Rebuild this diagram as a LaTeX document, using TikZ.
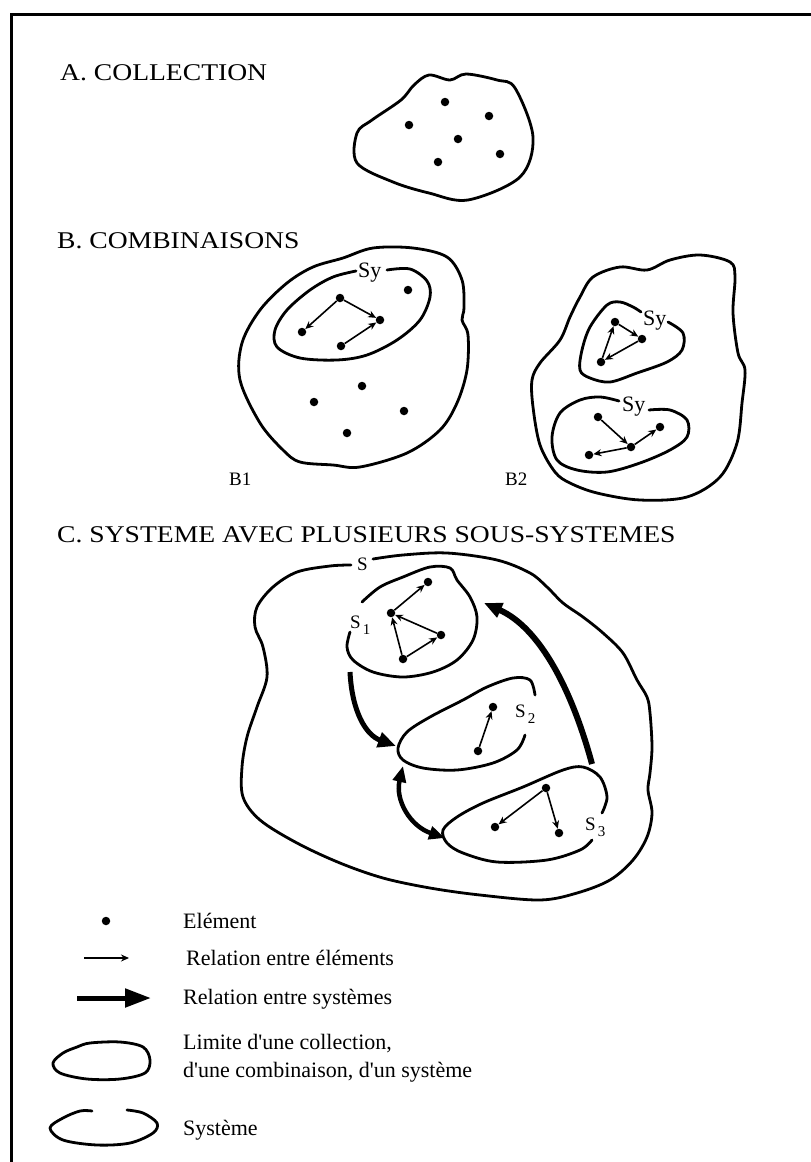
\documentclass[tikz,border=0pt]{standalone}
\usepackage{fontspec}
\setmainfont{Liberation Serif}
\newfontfamily\titlefont[FakeStretch=1.15]{Liberation Serif}
\usetikzlibrary{arrows.meta}
\tikzset{
  blob/.style={line width=2.8pt, line cap=round, line join=round},
  dot/.style={circle, fill=black, inner sep=0pt, minimum size=8.5pt},
  elarrow/.style={line width=1.6pt, -{Stealth[length=8pt,width=7pt]}},
  sysarrow/.style={line width=5pt, -{Triangle[length=18pt,width=15pt]}},
  title/.style={anchor=base west, inner sep=0pt, font=\titlefont\fontsize{24}{28}\selectfont},
  lbl/.style={anchor=base west, inner sep=0pt, font=\fontsize{19}{22}\selectfont},
  sylbl/.style={anchor=base west, inner sep=0pt, font=\fontsize{22}{24}\selectfont},
  legtext/.style={anchor=base west, inner sep=0pt, font=\fontsize{22}{28}\selectfont},
}
\newcommand{\subs}[1]{\hspace{2pt}\raisebox{-6pt}{\fontsize{15}{15}\selectfont #1}}
\begin{document}
\begin{tikzpicture}[x=1pt,y=-1pt]
\useasboundingbox (0,0) rectangle (811,1162);
% frame
\draw[line width=3pt] (11,1162) -- (11,14) -- (811,14);

% ---------- A ----------
\node[title] (ta) at (60,80) {A. COLLECTION};
\draw[blob] plot[smooth cycle, tension=0.55] coordinates {(429,75) (450,80) (466,74) (497,80) (515,88) (533,137) (520,177) (468,200) (429,193) (393,182) (357,163) (357,133) (372,120) (401,100) (414,85)};
\node[dot] (a1) at (445,102) {};
\node[dot] (a2) at (489,116) {};
\node[dot] (a3) at (409,125) {};
\node[dot] (a4) at (458,139) {};
\node[dot] (a5) at (500,154) {};
\node[dot] (a6) at (438,162) {};

% ---------- B ----------
\node[title] (tb) at (57,248) {B. COMBINAISONS};
% B1
\draw[blob] plot[smooth cycle, tension=0.55] coordinates {(343,258) (373,248) (413,248) (447,257) (462,280) (464,308) (462,320) (468,335) (467,370) (457,403) (440,430) (407,453) (360,467) (333,465) (300,462) (283,450) (260,423) (240,380) (242,343) (260,310) (287,283) (313,267)};
\draw[blob] plot[smooth, tension=0.55] coordinates {(387,270) (410,269) (427,281) (430,297) (420,320) (397,340) (367,355) (337,360) (300,358) (277,347) (275,330) (287,310) (310,290) (333,277) (356,271)};
\node[sylbl] (sy1) at (358,277) {Sy};
\node[dot] (b1) at (340,298) {};
\node[dot] (b2) at (380,320) {};
\node[dot] (b3) at (302,332) {};
\node[dot] (b4) at (341,346) {};
\node[dot] (b5) at (408,290) {};
\draw[elarrow] (b1) -- (b2);
\draw[elarrow] (b1) -- (b3);
\draw[elarrow] (b4) -- (b2);
\node[dot] (b6) at (362,386) {};
\node[dot] (b7) at (314,402) {};
\node[dot] (b8) at (404,411) {};
\node[dot] (b9) at (347,433) {};
\node[lbl] (lb1) at (229,485) {B1};
% B2
\draw[blob] plot[smooth cycle, tension=0.55] coordinates {(580,297) (593,277) (620,267) (647,270) (670,260) (700,255) (730,262) (735,277) (733,313) (738,353) (745,370) (742,403) (737,443) (720,477) (687,497) (640,500) (597,493) (570,483) (555,472) (540,445) (533,407) (532,380) (540,363) (560,340) (570,317)};
\draw[blob] plot[smooth, tension=0.55] coordinates {(668,322) (683,333) (682,350) (667,362) (637,373) (610,382) (590,378) (580,370) (582,350) (590,327) (607,305) (620,302) (633,307) (641,312)};
\node[sylbl] (sy2) at (643,325) {Sy};
\node[dot] (c1) at (615,322) {};
\node[dot] (c2) at (642,339) {};
\node[dot] (c3) at (601,362) {};
\draw[elarrow] (c1) -- (c2);
\draw[elarrow] (c2) -- (c3);
\draw[elarrow] (c3) -- (c1);
\draw[blob] plot[smooth, tension=0.55] coordinates {(649,410) (670,410) (687,420) (687,437) (670,450) (640,463) (607,472) (577,470) (557,460) (552,437) (560,413) (580,400) (600,397) (619,401)};
\node[sylbl] (sy3) at (622,411) {Sy};
\node[dot] (d1) at (598,417) {};
\node[dot] (d2) at (660,427) {};
\node[dot] (d3) at (631,447) {};
\node[dot] (d4) at (589,455) {};
\draw[elarrow] (d1) -- (d3);
\draw[elarrow] (d3) -- (d2);
\draw[elarrow] (d3) -- (d4);
\node[lbl] (lb2) at (505,485) {B2};

% ---------- C ----------
\node[title] (tc) at (57,542) {C. SYSTEME AVEC PLUSIEURS SOUS-SYSTEMES};
\draw[blob] plot[smooth, tension=0.55] coordinates {(373,559) (403,555) (447,553) (497,560) (530,573) (547,587) (563,603) (583,617) (603,633) (623,653) (637,680) (647,697) (650,713) (652,747) (650,773) (648,790) (652,813) (647,837) (633,860) (610,880) (577,893) (540,900) (480,895) (430,888) (383,878) (340,863) (297,843) (260,820) (243,797) (242,767) (247,737) (257,707) (267,677) (263,647) (255,627) (257,607) (273,587) (297,572) (330,566) (351,565)};
\node[lbl] (ls) at (357,570) {S};
% S1
\draw[blob] plot[smooth, tension=0.55] coordinates {(350,632) (347,647) (353,660) (373,672) (403,677) (433,672) (457,660) (473,640) (477,617) (470,597) (457,580) (450,568) (430,567) (403,577) (380,587) (362,602)};
\node[lbl] (ls1) at (350,628) {S\subs{1}};
\node[dot] (e1) at (428,582) {};
\node[dot] (e2) at (391,613) {};
\node[dot] (e3) at (441,635) {};
\node[dot] (e4) at (403,659) {};
\draw[elarrow] (e2) -- (e1);
\draw[elarrow] (e3) -- (e2);
\draw[elarrow] (e4) -- (e2);
\draw[elarrow] (e4) -- (e3);
% S2
\draw[blob] plot[smooth, tension=0.55] coordinates {(525,735) (517,750) (493,763) (457,770) (423,768) (403,760) (398,748) (407,732) (430,717) (463,700) (487,687) (513,678) (530,680) (535,695)};
\node[lbl] (ls2) at (515,717) {S\subs{2}};
\node[dot] (f1) at (493,707) {};
\node[dot] (f2) at (478,751) {};
\draw[elarrow] (f2) -- (f1);
% S3
\draw[blob] plot[smooth, tension=0.55] coordinates {(592,840) (580,850) (547,860) (497,862) (463,853) (447,843) (443,830) (457,817) (483,803) (523,787) (563,770) (583,767) (600,777) (607,797) (602,813)};
\node[lbl] (ls3) at (585,830) {S\subs{3}};
\node[dot] (g1) at (546,788) {};
\node[dot] (g2) at (495,827) {};
\node[dot] (g3) at (559,833) {};
\draw[elarrow] (g1) -- (g2);
\draw[elarrow] (g1) -- (g3);
% relations between systems
\coordinate (t1a) at (350,672);
\coordinate (t1b) at (396,746);
\draw[sysarrow] (t1a) .. controls (352,712) and (366,735) .. (t1b);
\coordinate (t2a) at (592,764);
\coordinate (t2b) at (484,603);
\draw[sysarrow, line width=6pt] (t2a) .. controls (572,690) and (540,628) .. (t2b);
\coordinate (t3a) at (403,766);
\coordinate (t3b) at (445,838);
\draw[sysarrow, line width=4.5pt, {Triangle[length=16pt,width=13pt]}-{Triangle[length=16pt,width=13pt]}] (t3a) .. controls (395,800) and (410,826) .. (t3b);

% ---------- legend ----------
\node[dot] (kdot) at (106,921) {};
\node[legtext] (k1) at (183,928) {Elément};
\coordinate (k2a) at (84,958);
\coordinate (k2b) at (129,958);
\draw[elarrow] (k2a) -- (k2b);
\node[legtext] (k2) at (186,965) {Relation entre éléments};
\coordinate (k3a) at (77,998);
\coordinate (k3b) at (151,998);
\draw[line width=5pt, -{Triangle[length=26pt,width=18pt]}] (k3a) -- (k3b);
\node[legtext] (k3) at (183,1004) {Relation entre systèmes};
\draw[blob] plot[smooth cycle, tension=0.55] coordinates {(90,1043) (120,1042) (143,1047) (150,1060) (145,1073) (120,1079) (87,1079) (60,1073) (53,1063) (63,1053) (77,1047)};
\node[legtext] (k4) at (183,1049) {Limite d\textquotesingle une collection,};
\node[legtext] (k4b) at (183,1077) {d\textquotesingle une combinaison, d\textquotesingle un système};
\draw[blob] plot[smooth, tension=0.55] coordinates {(92,1111) (80,1111) (63,1118) (50,1128) (63,1140) (97,1145) (130,1143) (153,1133) (157,1123) (143,1113) (127,1110)};
\node[legtext] (k5) at (183,1135) {Système};
\end{tikzpicture}
\end{document}
